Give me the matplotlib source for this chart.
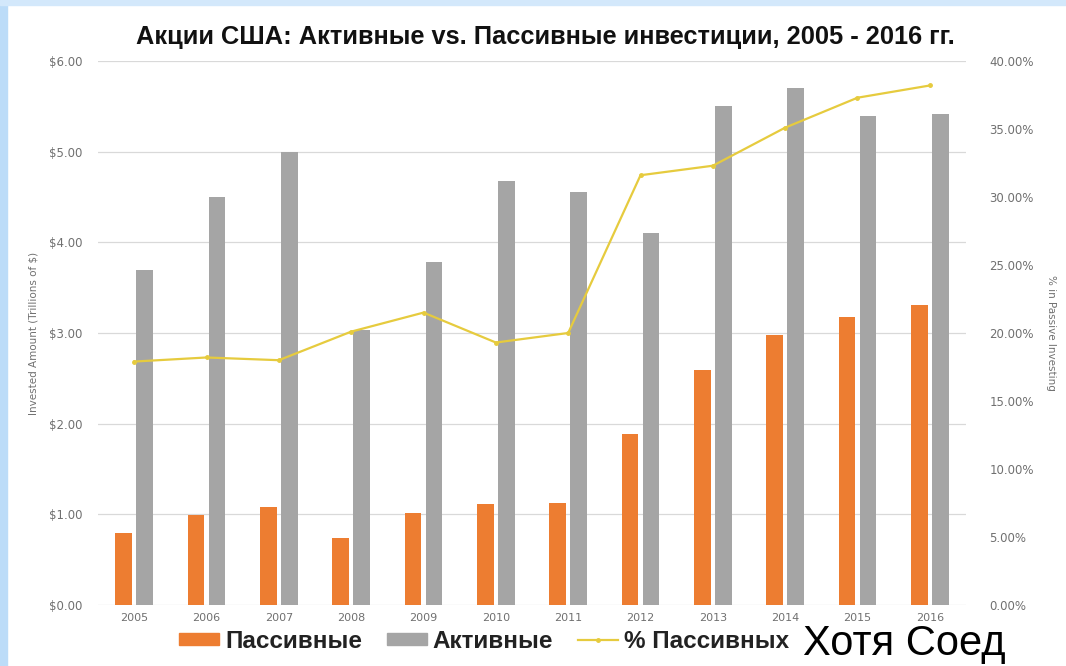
import matplotlib
matplotlib.use("Agg")
import matplotlib.pyplot as plt
import numpy as np
from matplotlib.patches import Rectangle
from matplotlib.lines import Line2D
from matplotlib.ticker import FuncFormatter, MultipleLocator

years = ["2005", "2006", "2007", "2008", "2009", "2010", "2011", "2012", "2013", "2014", "2015", "2016"]
passive = [0.79, 0.99, 1.08, 0.74, 1.01, 1.11, 1.12, 1.89, 2.59, 2.98, 3.18, 3.31]
active = [3.69, 4.50, 5.00, 3.03, 3.78, 4.68, 4.55, 4.10, 5.50, 5.70, 5.39, 5.42]
pct_passive = [17.9, 18.2, 18.0, 20.1, 21.5, 19.3, 20.0, 31.6, 32.3, 35.1, 37.3, 38.2]

title = "Акции США: Активные vs. Пассивные инвестиции, 2005 - 2016 гг."
legend_labels = ["Пассивные", "Активные", "% Пассивных"]
left_label = "Invested Amount (Trillions of $)"
right_label = "% in Passive Investing"
caption = "Хотя Соед"

W, H = 1066, 666
fig = plt.figure(figsize=(W / 100, H / 100), dpi=100)
fig.patch.set_facecolor("white")

# light blue frame on left and top
fig.patches.append(Rectangle((0, 0), 7 / W, 1, transform=fig.transFigure, color="#bcdcf8", zorder=0))
fig.patches.append(Rectangle((0, 1 - 5 / H), 1, 5 / H, transform=fig.transFigure, color="#d3e8fb", zorder=0))

x0, x1 = 98, 966
y0, y1 = 605, 61
ax = fig.add_axes([x0 / W, (H - y0) / H, (x1 - x0) / W, (y0 - y1) / H])
ax2 = ax.twinx()

x = np.arange(len(years))
bw = 0.23
off = 0.145
orange = "#ED7D31"
gray = "#A5A5A5"
yellow = "#E6CB3E"
tick_col = "#707070"

ax.bar(x - off, passive, width=bw, color=orange, zorder=3)
ax.bar(x + off, active, width=bw, color=gray, zorder=3)
ax2.plot(x, pct_passive, color=yellow, lw=1.6, marker="o", ms=2.5, zorder=4)

ax.set_xlim(-0.5, len(years) - 0.5)
ax.set_ylim(0, 6)
ax2.set_ylim(0, 40)
ax.yaxis.set_major_locator(MultipleLocator(1))
ax2.yaxis.set_major_locator(MultipleLocator(5))
ax.yaxis.set_major_formatter(FuncFormatter(lambda v, p: f"${v:.2f}"))
ax2.yaxis.set_major_formatter(FuncFormatter(lambda v, p: f"{v:.2f}%"))
ax.set_xticks(x)
ax.set_xticklabels(years)
ax.grid(axis="y", color="#D9D9D9", lw=0.9, zorder=0)
ax.set_axisbelow(True)

for a in (ax, ax2):
    for s in a.spines.values():
        s.set_visible(False)
    a.tick_params(length=0, labelsize=8, labelcolor=tick_col)
ax.tick_params(axis="y", pad=11, labelsize=8.5)
ax2.tick_params(axis="y", pad=17, labelsize=8.5)
ax.tick_params(axis="x", pad=6)

ax.set_ylabel(left_label, fontsize=7.5, color=tick_col, labelpad=8)
ax2.set_ylabel(right_label, fontsize=7.5, color=tick_col, rotation=270, labelpad=16)

fig.text(545 / W, 1 - 37 / H, title, ha="center", va="center",
         fontsize=18.3, fontweight="bold", family="Liberation Sans", color="#111111")

handles = [Rectangle((0, 0), 1, 1, color=orange), Rectangle((0, 0), 1, 1, color=gray),
           Line2D([], [], color=yellow, lw=1.6, marker="o", ms=2.5)]
leg = fig.legend(handles, legend_labels, loc="center", bbox_to_anchor=(484 / W, 1 - 641 / H),
                 ncol=3, frameon=False, handlelength=1.65, handleheight=0.4, handletextpad=0.25,
                 columnspacing=1.0, borderpad=0.2,
                 prop={"family": "Liberation Sans", "weight": "bold", "size": 17.5})
for t in leg.get_texts():
    t.set_color("#222222")

fig.text(803 / W, 1 - 655 / H, caption, ha="left", va="baseline", fontsize=30,
         family="Liberation Sans", color="black")

fig.savefig("out.png", dpi=100, facecolor="white")
